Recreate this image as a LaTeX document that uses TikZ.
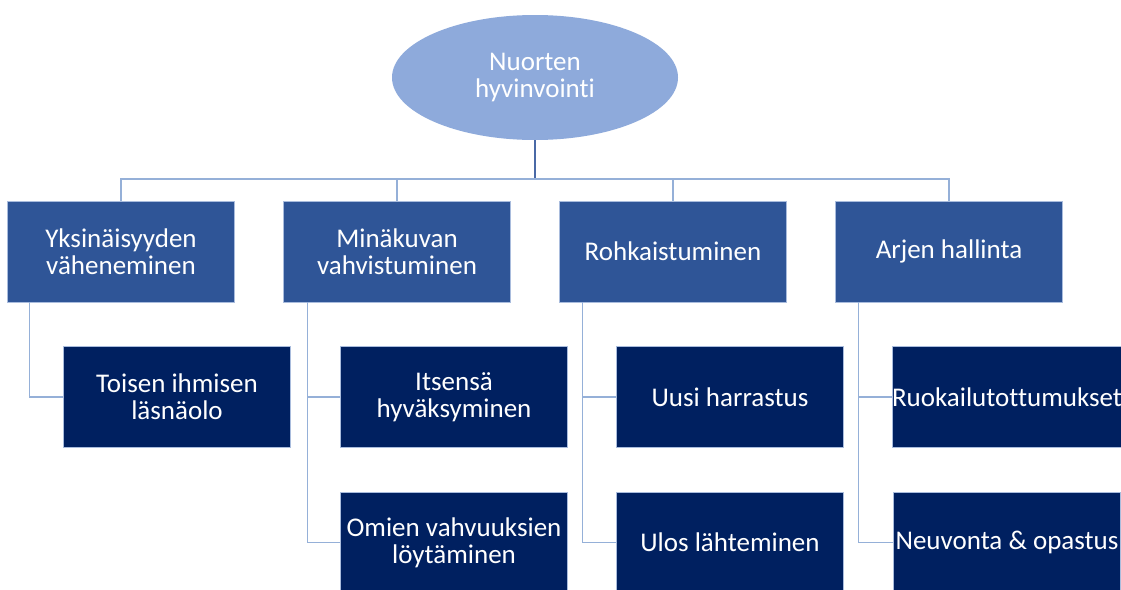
\documentclass[tikz,border=0pt]{standalone}
\usepackage{fontspec}
\setmainfont{Carlito}[Ligatures=NoCommon]
\usetikzlibrary{shapes.geometric,calc}
\definecolor{rootfill}{HTML}{8EAADB}
\definecolor{midfill}{HTML}{2F5597}
\definecolor{leaffill}{HTML}{002060}
\definecolor{edgetop}{HTML}{4A69A6}
\definecolor{edgelow}{HTML}{95B0D8}
\definecolor{boxrim}{HTML}{A9BCDD}
\tikzset{
  root/.style={ellipse, fill=rootfill, minimum width=286pt, minimum height=125pt,
    inner sep=0pt, text=white, align=center, font=\fontsize{27}{27}\selectfont},
  midbox/.style={rectangle, fill=midfill, draw=boxrim, line width=0.6pt,
    minimum width=227pt, minimum height=101pt, inner sep=0pt, text=white,
    align=center, font=\fontsize{27}{27}\selectfont},
  leafbox/.style={midbox, fill=leaffill},
  toplink/.style={draw=edgetop, line width=1.3pt},
  lowlink/.style={draw=edgelow, line width=1.3pt}
}
\begin{document}
\begin{tikzpicture}[x=1pt,y=-1pt]
  \fill[white] (0,0) rectangle (1121,589);
  \useasboundingbox (0,0) rectangle (1121,589);
  \clip (0,0) rectangle (1121,589);

  % top of the tree
  \node[root] (root) at (535,77.5) {Nuorten\\hyvinvointi};

  % main themes
  \node[midbox] (p1) at (121,251.5) {Yksinäisyyden\\väheneminen};
  \node[midbox] (p2) at (397,251.5) {Minäkuvan\\vahvistuminen};
  \node[midbox] (p3) at (673,251.5) {Rohkaistuminen};
  \node[midbox] (p4) at (949,251.5) {Arjen hallinta};

  % sub-themes
  \node[leafbox] (c1a) at (177,397) {Toisen ihmisen\\läsnäolo};
  \node[leafbox] (c2a) at (454,397) {Itsensä\\hyväksyminen};
  \node[leafbox] (c2b) at (454,542.5) {Omien vahvuuksien\\löytäminen};
  \node[leafbox] (c3a) at (730,397) {Uusi harrastus};
  \node[leafbox] (c3b) at (730,542.5) {Ulos lähteminen};
  \node[leafbox] (c4a) at (1007,397) {Ruokailutottumukset};
  \node[leafbox] (c4b) at (1007,542.5) {Neuvonta \& opastus};

  % links from the root to the main themes
  \coordinate (bar) at (535,179);
  \draw[toplink] (root.south) -- (bar);
  \draw[lowlink] (p1.north) -- (p1.north |- bar) -- (p4.north |- bar) -- (p4.north);
  \draw[lowlink] (p2.north) -- (p2.north |- bar);
  \draw[lowlink] (p3.north) -- (p3.north |- bar);

  % links from the main themes to the sub-themes
  \draw[lowlink] ($(p1.south west)+(22,0)$) |- (c1a.west);
  \draw[lowlink] ($(p2.south west)+(24,0)$) |- (c2a.west);
  \draw[lowlink] ($(p2.south west)+(24,0)$) |- (c2b.west);
  \draw[lowlink] ($(p3.south west)+(23,0)$) |- (c3a.west);
  \draw[lowlink] ($(p3.south west)+(23,0)$) |- (c3b.west);
  \draw[lowlink] ($(p4.south west)+(23,0)$) |- (c4a.west);
  \draw[lowlink] ($(p4.south west)+(23,0)$) |- (c4b.west);
\end{tikzpicture}
\end{document}
